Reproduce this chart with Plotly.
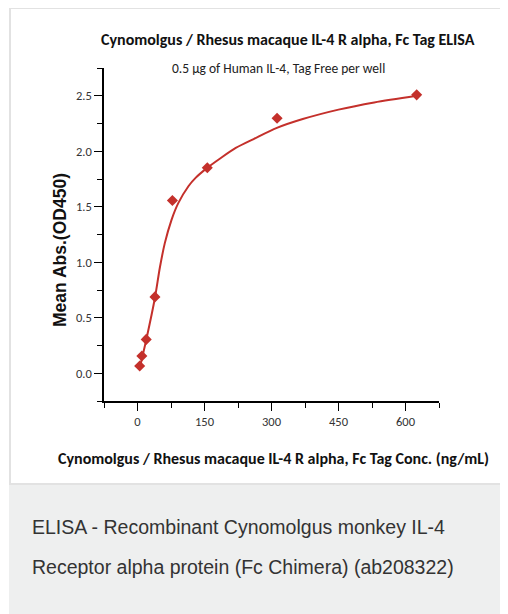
import plotly.graph_objects as go

# Data
conc = [4.88, 9.77, 19.53, 39.06, 78.13, 156.25, 312.5, 625]
od450 = [0.066, 0.156, 0.305, 0.688, 1.556, 1.852, 2.298, 2.508]

# Fitted curve
fit_x = [4.88, 9.77, 19.53, 39.06, 50, 61, 76, 91, 114, 130, 156, 185, 220, 260, 312, 370, 450, 530, 625]
fit_y = [0.04, 0.13, 0.30, 0.68, 0.95, 1.17, 1.38, 1.53, 1.685, 1.76, 1.85, 1.935, 2.03, 2.11, 2.21, 2.29, 2.375, 2.44, 2.50]

x_ticks = [0, 150, 300, 450, 600]
y_ticks = [0.0, 0.5, 1.0, 1.5, 2.0, 2.5]

title = "Cynomolgus / Rhesus macaque IL-4 R alpha, Fc Tag ELISA"
subtitle = "0.5 µg of Human IL-4, Tag Free per well"
x_title = "Cynomolgus / Rhesus macaque IL-4 R alpha, Fc Tag Conc. (ng/mL)"
y_title = "Mean Abs.(OD450)"
caption1 = "ELISA - Recombinant Cynomolgus monkey IL-4"
caption2 = "Receptor alpha protein (Fc Chimera) (ab208322)"

RED = "#c4302b"
NARROW = "Carlito, 'Liberation Sans Narrow', 'Open Sans', sans-serif"
ARIAL = "'Liberation Sans', Arial, sans-serif"

# the page body has an 8px margin: work in screen coordinates, shift by OFF
OFF = 8
W, H = 508 - OFF, 614 - OFF
# plot area in screen pixels: x 104..439, y 68..401
L, R, T, B = 104 - OFF, 508 - 439, 68 - OFF, 614 - 401
pw, ph = W - L - R, H - T - B


def px(xs):
    return (xs - OFF - L) / pw


def py(ys):
    return (H - B - (ys - OFF)) / ph


fig = go.Figure()
fig.add_trace(go.Scatter(x=fit_x, y=fit_y, mode="lines",
                         line=dict(color=RED, width=2, shape="spline", smoothing=0.8),
                         hoverinfo="skip", showlegend=False))
fig.add_trace(go.Scatter(x=conc, y=od450, mode="markers",
                         marker=dict(symbol="diamond", size=8.5, color=RED),
                         showlegend=False))

fig.update_layout(
    width=W, height=H,
    margin=dict(l=L, r=R, t=T, b=B, pad=0),
    paper_bgcolor="white", plot_bgcolor="white",
    font=dict(family=NARROW, color="#333333", size=12),
    xaxis=dict(range=[-75, 675], tickvals=x_ticks, ticks="outside", ticklen=8,
               tickwidth=1.2, tickcolor="black", showline=True, linecolor="black",
               linewidth=1.5, showgrid=False, zeroline=False,
               minor=dict(dtick=75, tick0=0, ticks="outside", ticklen=5,
                          tickcolor="black", tickwidth=1.2, showgrid=False),
               tickfont=dict(size=12.5, family=NARROW, color="#333")),
    yaxis=dict(range=[-0.25, 2.75], tickvals=y_ticks, tickformat=".1f", ticks="outside",
               ticklen=8, tickwidth=1.2, tickcolor="black", showline=True,
               linecolor="black", linewidth=1.5, showgrid=False, zeroline=False,
               minor=dict(dtick=0.25, tick0=0, ticks="outside", ticklen=5,
                          tickcolor="black", tickwidth=1.2, showgrid=False),
               tickfont=dict(size=12.5, family=NARROW, color="#333")),
)

# Frame and caption background
fig.add_shape(type="rect", xref="paper", yref="paper",
              x0=px(10), x1=px(530), y0=py(484), y1=py(8),
              line=dict(color="#e2e2e2", width=2), fillcolor="rgba(0,0,0,0)", layer="below")
fig.add_shape(type="rect", xref="paper", yref="paper",
              x0=px(9), x1=px(530), y0=py(640), y1=py(485),
              line=dict(width=0), fillcolor="#eeefef", layer="below")

fig.add_annotation(text=f"<b>{title}</b>", xref="paper", yref="paper",
                   x=px(288), y=py(40), showarrow=False, xanchor="center", yanchor="middle",
                   font=dict(size=16, family=NARROW, color="#111"))
fig.add_annotation(text=subtitle, xref="paper", yref="paper",
                   x=px(278), y=py(68), showarrow=False, xanchor="center", yanchor="middle",
                   font=dict(size=13.5, family=NARROW, color="#222"))
fig.add_annotation(text=f"<b>{x_title}</b>", xref="paper", yref="paper",
                   x=px(273.5), y=py(458), showarrow=False, xanchor="center", yanchor="middle",
                   font=dict(size=16, family=NARROW, color="#111"))
fig.add_annotation(text=f"<b>{y_title}</b>", xref="paper", yref="paper",
                   x=px(60), y=py(250), showarrow=False, xanchor="center", yanchor="middle",
                   textangle=-90, font=dict(size=17.5, family=ARIAL, color="#111"))
fig.add_annotation(text=caption1, xref="paper", yref="paper",
                   x=px(30), y=py(527), showarrow=False, xanchor="left", yanchor="middle",
                   font=dict(size=19.5, family=ARIAL, color="#333"))
fig.add_annotation(text=caption2, xref="paper", yref="paper",
                   x=px(30), y=py(567), showarrow=False, xanchor="left", yanchor="middle",
                   font=dict(size=19.5, family=ARIAL, color="#333"))

fig.write_html("out.html")
